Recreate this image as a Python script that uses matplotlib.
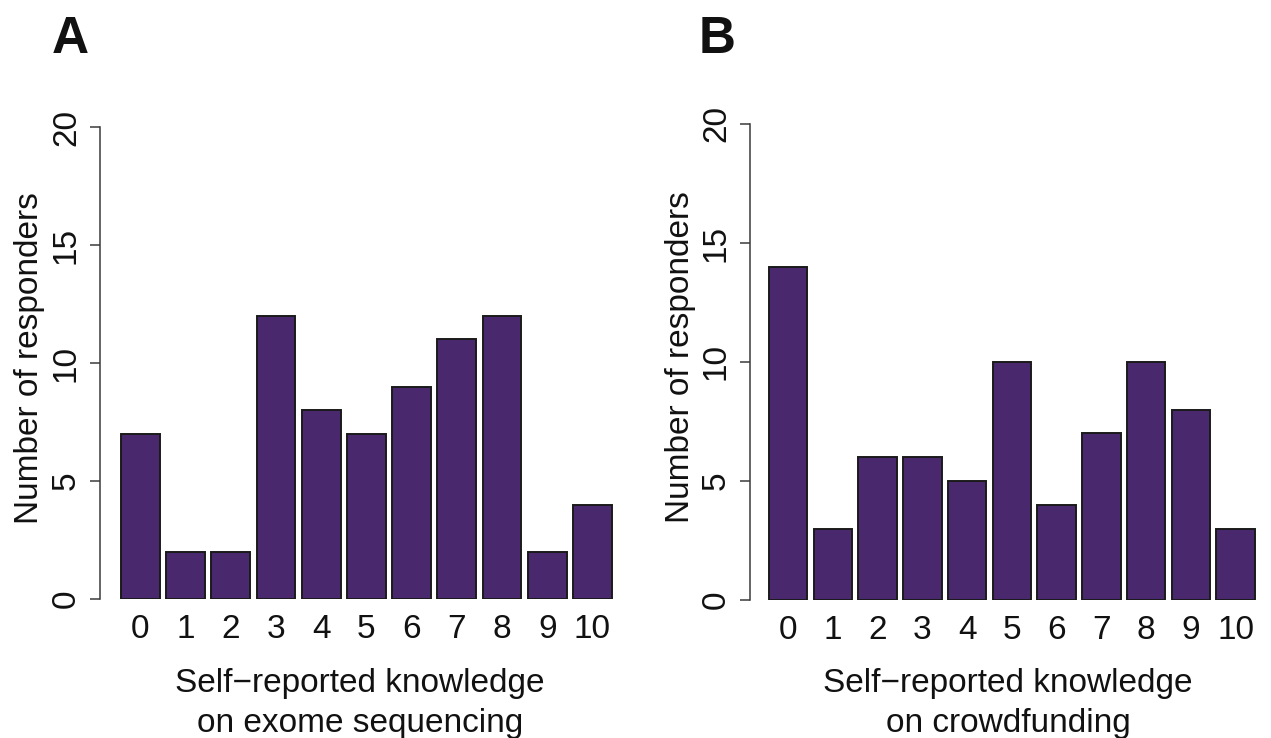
import numpy as np
import matplotlib
matplotlib.use('Agg')
import matplotlib.pyplot as plt

plt.rcParams['font.family'] = ['Liberation Sans', 'DejaVu Sans']

# 数据
scores = list(range(11))
exome_counts = [7, 2, 2, 12, 8, 7, 9, 11, 12, 2, 4]
crowd_counts = [14, 3, 6, 6, 5, 10, 4, 7, 10, 8, 3]
y_ticks = [0, 5, 10, 15, 20]

bar_color = '#49286d'
axis_color = '#3a3a3a'
fs = 24

W, H = 1271, 738
fig = plt.figure(figsize=(W / 100, H / 100), dpi=100)


def px_axes(left, bottom, right, top):
    # 像素坐标转换为figure坐标
    return fig.add_axes([left / W, 1 - bottom / H, (right - left) / W, (bottom - top) / H])


def draw_panel(ax, counts, x0):
    ax.bar(scores, counts, width=0.86, color=bar_color, edgecolor='#1a1a1a', linewidth=1.4, zorder=3)
    ax.set_xlim(x0, 10.5)
    ax.set_ylim(0, 20)
    for s in ['top', 'right', 'bottom']:
        ax.spines[s].set_visible(False)
    ax.spines['left'].set_color(axis_color)
    ax.spines['left'].set_linewidth(1.1)
    ax.set_xticks(scores)
    ax.set_xticklabels([str(s) for s in scores])
    ax.tick_params(axis='x', length=0, pad=11, labelsize=fs, colors='#111111')
    ax.set_yticks(y_ticks)
    ax.set_yticklabels([str(v) for v in y_ticks])
    ax.tick_params(axis='y', length=7, width=1.1, color=axis_color, pad=6, labelsize=fs, labelcolor='#111111')
    for lab in ax.get_yticklabels():
        lab.set_rotation(90)
        lab.set_va('center')
        lab.set_ha('right')


# A: 外显子测序
axA = px_axes(100, 599, 615, 127)
draw_panel(axA, exome_counts, -0.896)

# B: 众筹
axB = px_axes(750, 600, 1258, 124)
draw_panel(axB, crowd_counts, -0.85)


def ftext(x, y, s, **kw):
    fig.text(x / W, 1 - y / H, s, **kw)


# 面板字母
ftext(52, 53, 'A', fontsize=37, fontweight='bold', ha='left', va='baseline', color='#111111')
ftext(699, 53, 'B', fontsize=37, fontweight='bold', ha='left', va='baseline', color='#111111')

# 纵轴标题
ftext(30, 358, 'Number of responders', fontsize=fs, rotation=90, ha='center', va='center', color='#111111')
ftext(680, 357, 'Number of responders', fontsize=fs, rotation=90, ha='center', va='center', color='#111111')

# 横轴标题
ftext(360, 692, 'Self\u2212reported knowledge', fontsize=fs, ha='center', va='baseline', color='#111111')
ftext(360, 732, 'on exome sequencing', fontsize=fs, ha='center', va='baseline', color='#111111')
ftext(1008, 692, 'Self\u2212reported knowledge', fontsize=fs, ha='center', va='baseline', color='#111111')
ftext(1008, 732, 'on crowdfunding', fontsize=fs, ha='center', va='baseline', color='#111111')

fig.savefig('out.png', dpi=100)
